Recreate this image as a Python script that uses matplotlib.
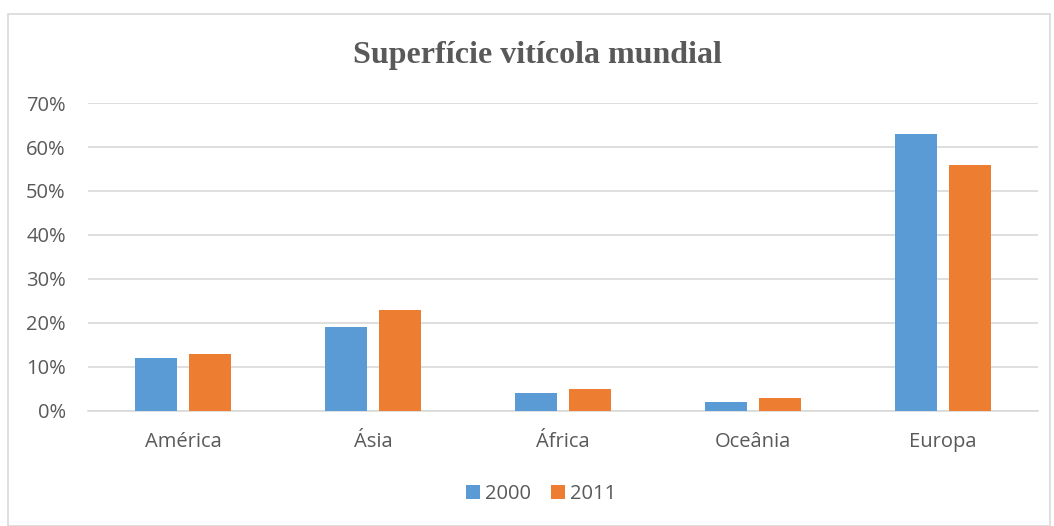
import matplotlib
matplotlib.use("Agg")
import matplotlib.pyplot as plt
from matplotlib.patches import Rectangle
import numpy as np

categories = ["América", "Ásia", "África", "Oceânia", "Europa"]
series_2000 = [12, 19, 4, 2, 63]
series_2011 = [13, 23, 5, 3, 56]
yticks = [0, 10, 20, 30, 40, 50, 60, 70]
title = "Superfície vitícola mundial"

plt.rcParams['font.family'] = ['Open Sans', 'DejaVu Sans']
W, H = 1054, 526
fig = plt.figure(figsize=(W / 100, H / 100), dpi=100)
ax = fig.add_axes([88 / W, 1 - 411 / H, (1038 - 88) / W, (411 - 103) / H])

x = np.arange(len(categories))
bw = 42 / 190
off = 27 / 190
ax.bar(x - off, series_2000, bw, color="#5b9bd5", label="2000", zorder=3)
ax.bar(x + off, series_2011, bw, color="#ed7d31", label="2011", zorder=3)

ax.set_xlim(-0.5, len(categories) - 0.5)
ax.set_ylim(0, 70)
ax.set_yticks(yticks)
ax.set_yticklabels([f"{v}%" for v in yticks])
ax.set_xticks(x)
ax.set_xticklabels(categories)
ax.grid(axis="y", color="#d9d9d9", linewidth=1.2, zorder=0)
for s in ["top", "right", "left"]:
    ax.spines[s].set_visible(False)
ax.spines["bottom"].set_color("#d9d9d9")
ax.spines["bottom"].set_linewidth(1.2)
ax.tick_params(axis="both", length=0, colors="#595959", labelsize=14.5)
ax.tick_params(axis="y", pad=16)
ax.tick_params(axis="x", pad=15)

fig.text(537 / W, 1 - 56 / H, title, ha="center", va="center",
         fontsize=23, fontweight="bold", color="#595959",
         family=["Liberation Serif", "DejaVu Serif"])

leg = fig.legend(loc="center", bbox_to_anchor=(541 / W, 1 - 494 / H), ncol=2,
                 frameon=False, fontsize=14.5, handlelength=0.7, handleheight=0.7,
                 handletextpad=0.25, columnspacing=1.0)
for t in leg.get_texts():
    t.set_color("#595959")

fig.patches.append(Rectangle((7.5 / W, 0), (1050 - 7.5) / W, 1 - 13.5 / H,
                             transform=fig.transFigure, fill=False,
                             edgecolor="#d9d9d9", linewidth=1.2))

fig.savefig("out.png", dpi=100)
